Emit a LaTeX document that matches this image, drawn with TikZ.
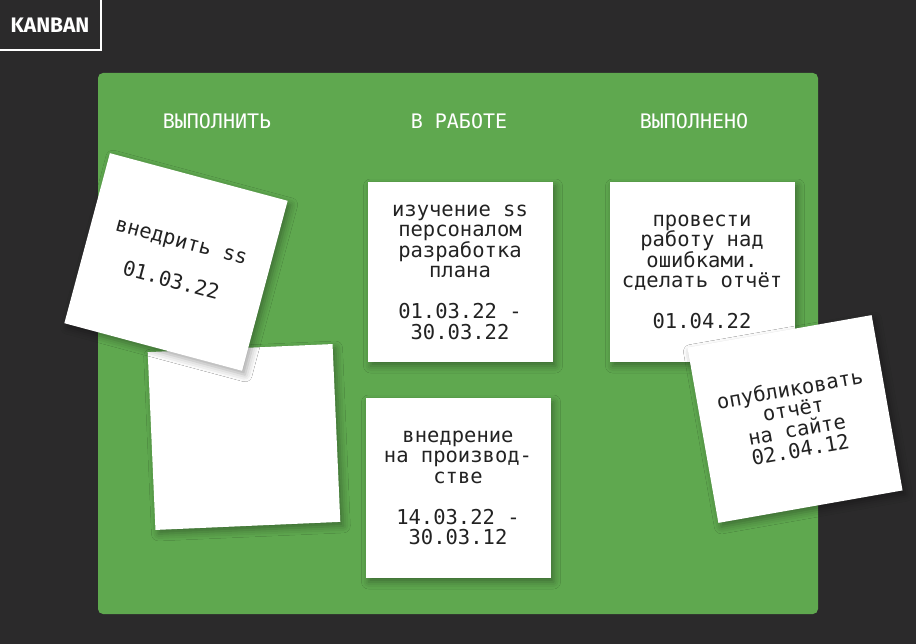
\documentclass[tikz,border=0pt]{standalone}
\usepackage{fontspec}
\usetikzlibrary{shadows.blur}
\newfontfamily\notefont{DejaVu Sans Mono}
\newfontfamily\logofont{Fira Sans}
\definecolor{bgdark}{HTML}{2B2A2B}
\definecolor{board}{HTML}{5FA84F}
\definecolor{ink}{HTML}{222222}
\begin{document}
\begin{tikzpicture}[x=1pt,y=-1pt,
  note/.style={fill=white, inner sep=0pt, minimum width=185pt, minimum height=180pt,
    align=center, text=ink, font=\notefont\fontsize{20.5}{20.5}\selectfont,
    blur shadow={shadow xshift=3pt, shadow yshift=-4pt, shadow blur radius=7pt, shadow opacity=35}},
  head/.style={text=white, font=\notefont\fontsize{20}{20}\selectfont, inner sep=0pt}]
\useasboundingbox (0,0) rectangle (916,644);
\fill[bgdark] (0,0) rectangle (916,644);
% logo
\draw[white, line width=2pt] (-5,-5) rectangle (101,50);
\node[text=white, font=\logofont\bfseries\fontsize{21}{21}\selectfont, inner sep=0pt] (logo) at (50,25) {KANBAN};
% board
\fill[board, rounded corners=5pt] (98,73) rectangle (818,614);
\node[head] (h1) at (217,121) {ВЫПОЛНИТЬ};
\node[head] (h2) at (459,121) {В РАБОТЕ};
\node[head] (h3) at (694,121) {ВЫПОЛНЕНО};
% notes
\node[note, minimum width=185pt, minimum height=178pt, rotate=2.5] (blank) at (244,437) {};
\node[note, minimum width=184pt, minimum height=176pt, rotate=-15] (n1) at (176,262) {внедрить ss\\[20.5pt]01.03.22};
\node[note] (n3) at (460,272) {изучение ss\\персоналом\\разработка\\плана\\[20.5pt]01.03.22 -\\30.03.22};
\node[note] (n4) at (458,488) {внедрение\\на производ-\\стве\\[20.5pt]14.03.22 -\\30.03.12};
\node[note] (n5) at (702,272) {провести\\работу над\\ошибками.\\сделать отчёт\\[20.5pt]01.04.22};
\node[note, minimum width=187pt, minimum height=178pt, rotate=10] (n6) at (795,419) {опубликовать\\отчёт\\на сайте\\02.04.12};
\end{tikzpicture}
\end{document}
